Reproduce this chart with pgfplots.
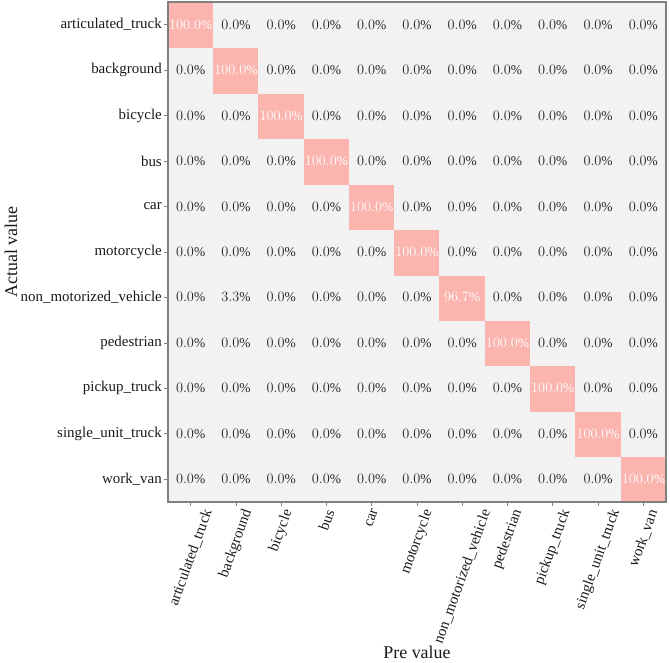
\documentclass[border=0pt]{standalone}
\usepackage{graphicx}
\usepackage{pgfplots}
\pgfplotsset{compat=1.18}
\usepackage{pgfplotstable}
\usepackage{fontspec}
\setmainfont{Liberation Serif}
\definecolor{cellgray}{HTML}{F2F2F2}
\definecolor{cellpink}{HTML}{FBB4AE}
\definecolor{framegray}{HTML}{808080}
\newcommand{\rl}[1]{\rotatebox{70}{#1}}
\pgfplotstableread{
x y v
0 0 0
1 0 0
2 0 0
3 0 0
4 0 0
5 0 0
6 0 0
7 0 0
8 0 0
9 0 0
10 0 100
0 1 0
1 1 0
2 1 0
3 1 0
4 1 0
5 1 0
6 1 0
7 1 0
8 1 0
9 1 100
10 1 0
0 2 0
1 2 0
2 2 0
3 2 0
4 2 0
5 2 0
6 2 0
7 2 0
8 2 100
9 2 0
10 2 0
0 3 0
1 3 0
2 3 0
3 3 0
4 3 0
5 3 0
6 3 0
7 3 100
8 3 0
9 3 0
10 3 0
0 4 0
1 4 3.3
2 4 0
3 4 0
4 4 0
5 4 0
6 4 96.7
7 4 0
8 4 0
9 4 0
10 4 0
0 5 0
1 5 0
2 5 0
3 5 0
4 5 0
5 5 100
6 5 0
7 5 0
8 5 0
9 5 0
10 5 0
0 6 0
1 6 0
2 6 0
3 6 0
4 6 100
5 6 0
6 6 0
7 6 0
8 6 0
9 6 0
10 6 0
0 7 0
1 7 0
2 7 0
3 7 100
4 7 0
5 7 0
6 7 0
7 7 0
8 7 0
9 7 0
10 7 0
0 8 0
1 8 0
2 8 100
3 8 0
4 8 0
5 8 0
6 8 0
7 8 0
8 8 0
9 8 0
10 8 0
0 9 0
1 9 100
2 9 0
3 9 0
4 9 0
5 9 0
6 9 0
7 9 0
8 9 0
9 9 0
10 9 0
0 10 100
1 10 0
2 10 0
3 10 0
4 10 0
5 10 0
6 10 0
7 10 0
8 10 0
9 10 0
10 10 0
}\cmdata
\begin{document}
\begin{tikzpicture}
\begin{axis}[
  name=ax,
  scale only axis,
  width=498bp, height=500bp,
  xmin=-0.5, xmax=10.5, ymin=-0.5, ymax=10.5,
  xtick={0,...,10}, ytick={0,...,10},
  xticklabels={\rl{articulated\_truck}, \rl{background}, \rl{bicycle}, \rl{bus}, \rl{car}, \rl{motorcycle}, \rl{non\_motorized\_vehicle}, \rl{pedestrian}, \rl{pickup\_truck}, \rl{single\_unit\_truck}, \rl{work\_van}},
  yticklabels={work\_van, single\_unit\_truck, pickup\_truck, pedestrian, non\_motorized\_vehicle, motorcycle, car, bus, bicycle, background, articulated\_truck},
  tick align=outside, tick pos=left,
  major tick length=4bp,
  tick style={framegray, line width=0.8bp},
  axis line style={framegray, line width=1.2bp},
  axis on top,
  xticklabel style={anchor=north, font=\fontsize{15}{15}\selectfont, text=black!90, inner sep=2bp},
  yticklabel style={font=\fontsize{15}{15}\selectfont, text=black!90, inner sep=2bp},
  xlabel={Pre value}, ylabel={Actual value},
  label style={font=\fontsize{18}{18}\selectfont, text=black!90},
  xlabel style={yshift=4bp},
  ylabel style={yshift=-2bp},
  colormap={pastel}{color(0)=(cellgray) color(1)=(cellpink)},
  point meta min=0, point meta max=1,
]
\addplot[matrix plot*, mesh/cols=11, point meta={\thisrow{v}>50 ? 1 : 0}] table[x=x, y=y] {\cmdata};
\addplot[only marks, mark=none, point meta=\thisrow{v},
  x filter/.expression={\thisrow{v}>50 ? nan : x}, unbounded coords=discard,
  nodes near coords={\pgfmathprintnumber[fixed,fixed zerofill,precision=1]{\pgfplotspointmeta}\%},
  nodes near coords align=center,
  every node near coord/.append style={font=\fontsize{13.5}{13.5}\selectfont, text=black!85, anchor=center}]
  table[x=x, y=y] {\cmdata};
\addplot[only marks, mark=none, point meta=\thisrow{v},
  x filter/.expression={\thisrow{v}>50 ? x : nan}, unbounded coords=discard,
  nodes near coords={\pgfmathprintnumber[fixed,fixed zerofill,precision=1]{\pgfplotspointmeta}\%},
  nodes near coords align=center,
  every node near coord/.append style={font=\fontsize{13.5}{13.5}\selectfont, text=white, anchor=center}]
  table[x=x, y=y] {\cmdata};
\end{axis}
\pgfresetboundingbox
\path ([xshift=-168bp,yshift=-161bp]ax.south west) rectangle ([xshift=4bp,yshift=2bp]ax.north east);
\end{tikzpicture}
\end{document}
